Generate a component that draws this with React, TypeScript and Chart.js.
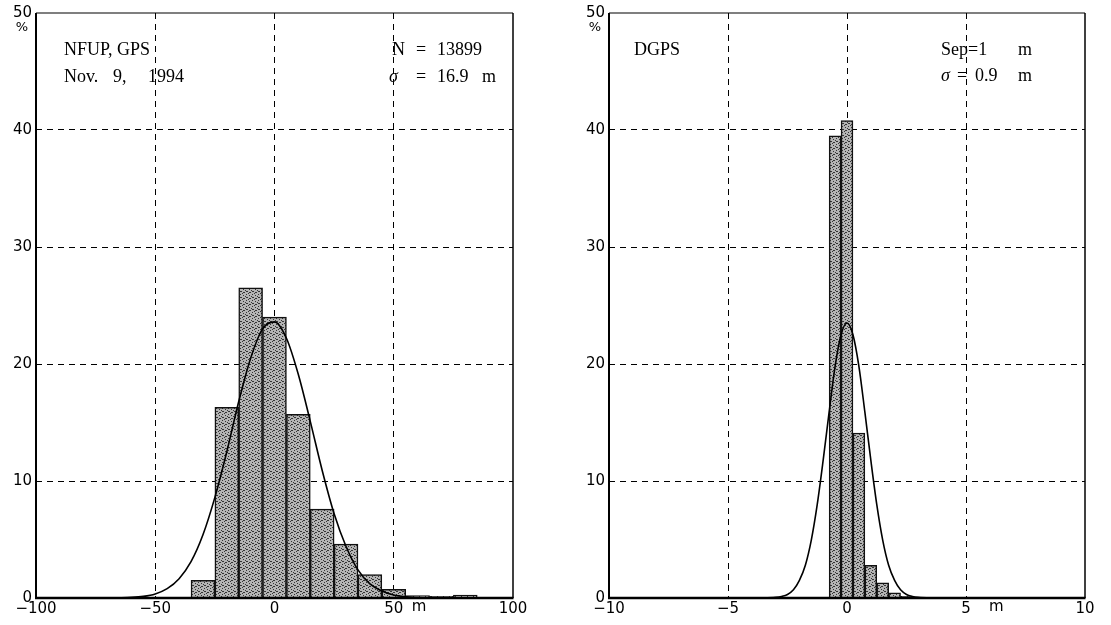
import React, { useEffect, useRef } from "react";
import { Chart, registerables } from "chart.js";

Chart.register(...registerables);

// ---- Left panel: NFUP, GPS (bin width 10 m) ----
const gpsBinCenters = [-30, -20, -10, 0, 10, 20, 30, 40, 50, 60, 70, 80];
const gpsPercent = [1.5, 16.3, 26.5, 24.0, 15.7, 7.6, 4.6, 2.0, 0.75, 0.2, 0.15, 0.25];
const gpsCurveX = [-100, -90, -80, -70, -65, -60, -55, -50, -45, -40, -35, -30, -25, -20, -15, -10, -5, 0, 5, 10, 15, 20, 25, 30, 35, 40, 45, 50, 55, 60, 65, 70, 80, 90, 100];
const gpsCurveY = [0, 0, 0, 0.01, 0.02, 0.05, 0.14, 0.35, 0.8, 1.65, 3.1, 5.4, 8.6, 12.5, 16.8, 20.5, 23.0, 23.6, 22.2, 19.1, 15.1, 10.9, 7.2, 4.4, 2.4, 1.2, 0.6, 0.25, 0.1, 0.04, 0.01, 0, 0, 0, 0];
const gpsXTicks = [-100, -50, 0, 50, 100];

// ---- Right panel: DGPS (bin width 0.5 m) ----
const dgpsBinCenters = [-0.5, 0, 0.5, 1, 1.5, 2, 2.5];
const dgpsPercent = [39.5, 40.8, 14.1, 2.8, 1.3, 0.45, 0.15];
const dgpsCurveX = [-10, -8, -6, -5, -4, -3.5, -3, -2.75, -2.5, -2.25, -2, -1.75, -1.5, -1.25, -1, -0.75, -0.5, -0.25, 0, 0.25, 0.5, 0.75, 1, 1.25, 1.5, 1.75, 2, 2.25, 2.5, 2.75, 3, 3.5, 4, 5, 6, 8, 10];
const dgpsCurveY = [0, 0, 0, 0, 0, 0.005, 0.05, 0.13, 0.3, 0.7, 1.5, 2.8, 4.95, 8.0, 11.8, 15.9, 19.8, 22.5, 23.5, 22.5, 19.8, 15.9, 11.8, 8.0, 4.95, 2.8, 1.5, 0.7, 0.3, 0.13, 0.05, 0.005, 0, 0, 0, 0, 0];
const dgpsXTicks = [-10, -5, 0, 5, 10];

const yTicks = [0, 10, 20, 30, 40, 50];

type Seg = { t: string; x: number; y: number; italic?: boolean };

const gpsNotes: Seg[] = [
  { t: "NFUP, GPS", x: 64, y: 55 },
  { t: "Nov.", x: 64, y: 82 },
  { t: "9,", x: 113, y: 82 },
  { t: "1994", x: 148, y: 82 },
  { t: "N", x: 392, y: 55 },
  { t: "=", x: 416, y: 55 },
  { t: "13899", x: 437, y: 55 },
  { t: "σ", x: 389, y: 82, italic: true },
  { t: "=", x: 416, y: 82 },
  { t: "16.9", x: 437, y: 82 },
  { t: "m", x: 482, y: 82 },
];

const dgpsNotes: Seg[] = [
  { t: "DGPS", x: 634, y: 55 },
  { t: "Sep=1", x: 941, y: 55 },
  { t: "m", x: 1018, y: 55 },
  { t: "σ", x: 941, y: 81, italic: true },
  { t: "=", x: 957, y: 81 },
  { t: "0.9", x: 975, y: 81 },
  { t: "m", x: 1018, y: 81 },
];

function makePattern(): CanvasPattern | string {
  const c = document.createElement("canvas");
  c.width = 6;
  c.height = 6;
  const g = c.getContext("2d");
  if (!g) return "#9c9c9c";
  g.fillStyle = "#b4b4b4";
  g.fillRect(0, 0, 6, 6);
  g.fillStyle = "#353535";
  const dots = [[0, 0], [3, 1], [1, 3], [4, 4], [2, 5], [5, 2], [3, 4], [0, 3]];
  dots.forEach(([a, b]) => g.fillRect(a, b, 1, 1));
  return g.createPattern(c, "repeat") || "#9c9c9c";
}

type PanelProps = {
  left: number;
  width: number;
  yAxisWidth: number;
  rightPad: number;
  centers: number[];
  percent: number[];
  curveX: number[];
  curveY: number[];
  xTicks: number[];
  unitTick: number;
  unitOffset: number;
  notes: Seg[];
};

function Panel(p: PanelProps) {
  const ref = useRef<HTMLCanvasElement | null>(null);
  useEffect(() => {
    if (!ref.current) return;
    const xmin = p.xTicks[0];
    const xmax = p.xTicks[p.xTicks.length - 1];
    const fmt = (v: number) => (v < 0 ? "\u2212" + Math.abs(v) : String(v));
    const frame = {
      id: "frame",
      afterDraw(chart: any) {
        const ctx = chart.ctx;
        const a = chart.chartArea;
        ctx.save();
        ctx.strokeStyle = "#000";
        ctx.setLineDash([]);
        ctx.lineWidth = 1.2;
        ctx.beginPath();
        ctx.moveTo(a.left, a.top);
        ctx.lineTo(a.right, a.top);
        ctx.stroke();
        ctx.lineWidth = 1.5;
        ctx.beginPath();
        ctx.moveTo(a.right, a.top);
        ctx.lineTo(a.right, a.bottom);
        ctx.stroke();
        ctx.lineWidth = 2;
        ctx.beginPath();
        ctx.moveTo(a.left, a.top);
        ctx.lineTo(a.left, a.bottom);
        ctx.stroke();
        ctx.lineWidth = 2.5;
        ctx.beginPath();
        ctx.moveTo(a.left - 1, a.bottom);
        ctx.lineTo(a.right + 0.5, a.bottom);
        ctx.stroke();
        // percent sign under the top y label
        ctx.fillStyle = "#000";
        ctx.font = '13px "DejaVu Sans"';
        ctx.textAlign = "center";
        ctx.textBaseline = "middle";
        ctx.fillText("%", a.left - 14, a.top + 15);
        // unit "m" after a tick label
        const xs = chart.scales.x;
        ctx.font = '15px "DejaVu Sans"';
        ctx.textAlign = "left";
        ctx.textBaseline = "top";
        ctx.fillText("m", xs.getPixelForValue(p.unitTick) + p.unitOffset, a.bottom + 2);
        // annotations
        ctx.textBaseline = "alphabetic";
        p.notes.forEach((s) => {
          ctx.font = (s.italic ? "italic " : "") + '18px "Liberation Serif"';
          ctx.fillText(s.t, s.x - p.left, s.y);
        });
        ctx.restore();
      },
    };
    const gridColor = (lo: number, hi: number) => (c: any) =>
      c.tick && (c.tick.value === lo || c.tick.value === hi) ? "rgba(0,0,0,0)" : "#000";
    const chart = new Chart(ref.current, {
      data: {
        datasets: [
          {
            type: "line",
            data: p.curveX.map((x, i) => ({ x, y: p.curveY[i] })),
            borderColor: "#000",
            borderWidth: 1.6,
            pointRadius: 0,
            fill: false,
            cubicInterpolationMode: "monotone",
            order: 0,
          } as any,
          {
            type: "bar",
            data: p.centers.map((x, i) => ({ x, y: p.percent[i] })),
            backgroundColor: makePattern() as any,
            borderColor: "#111",
            borderWidth: 1.5,
            barPercentage: 1,
            categoryPercentage: 1,
            order: 1,
          } as any,
        ],
      },
      options: {
        responsive: false,
        animation: false,
        devicePixelRatio: 1,
        layout: { padding: { left: 0, top: 13, right: p.rightPad, bottom: 0 } },
        plugins: { legend: { display: false }, tooltip: { enabled: false } },
        scales: {
          x: {
            type: "linear",
            min: xmin,
            max: xmax,
            offset: false,
            afterBuildTicks: (s: any) => {
              s.ticks = p.xTicks.map((v) => ({ value: v }));
            },
            afterFit: (s: any) => {
              s.height = 27;
            },
            ticks: {
              autoSkip: false,
              maxRotation: 0,
              padding: 2,
              color: "#000",
              font: { family: "DejaVu Sans", size: 15 },
              callback: (v: any) => fmt(Number(v)),
            },
            grid: { color: gridColor(xmin, xmax), lineWidth: 1, drawTicks: false, offset: false },
            border: { display: false, dash: [6, 5] },
          },
          y: {
            type: "linear",
            min: 0,
            max: 50,
            afterBuildTicks: (s: any) => {
              s.ticks = yTicks.map((v) => ({ value: v }));
            },
            afterFit: (s: any) => {
              s.width = p.yAxisWidth;
            },
            ticks: {
              padding: 4,
              color: "#000",
              font: { family: "DejaVu Sans", size: 15 },
            },
            grid: { color: gridColor(0, 50), lineWidth: 1, drawTicks: false },
            border: { display: false, dash: [6, 5] },
          },
        },
      } as any,
      plugins: [frame],
    } as any);
    return () => chart.destroy();
  }, []);
  return (
    <canvas
      ref={ref}
      width={p.width}
      height={625}
      style={{ position: "absolute", left: p.left, top: 0, width: p.width, height: 625 }}
    />
  );
}

export default function App() {
  return (
    <div style={{ position: "absolute", left: 0, top: 0, width: 1111, height: 625, background: "#fff", overflow: "hidden" }}>
      <Panel
        left={0}
        width={560}
        yAxisWidth={36}
        rightPad={47}
        centers={gpsBinCenters}
        percent={gpsPercent}
        curveX={gpsCurveX}
        curveY={gpsCurveY}
        xTicks={gpsXTicks}
        unitTick={50}
        unitOffset={18}
        notes={gpsNotes}
      />
      <Panel
        left={560}
        width={551}
        yAxisWidth={49}
        rightPad={26}
        centers={dgpsBinCenters}
        percent={dgpsPercent}
        curveX={dgpsCurveX}
        curveY={dgpsCurveY}
        xTicks={dgpsXTicks}
        unitTick={5}
        unitOffset={23}
        notes={dgpsNotes}
      />
    </div>
  );
}
